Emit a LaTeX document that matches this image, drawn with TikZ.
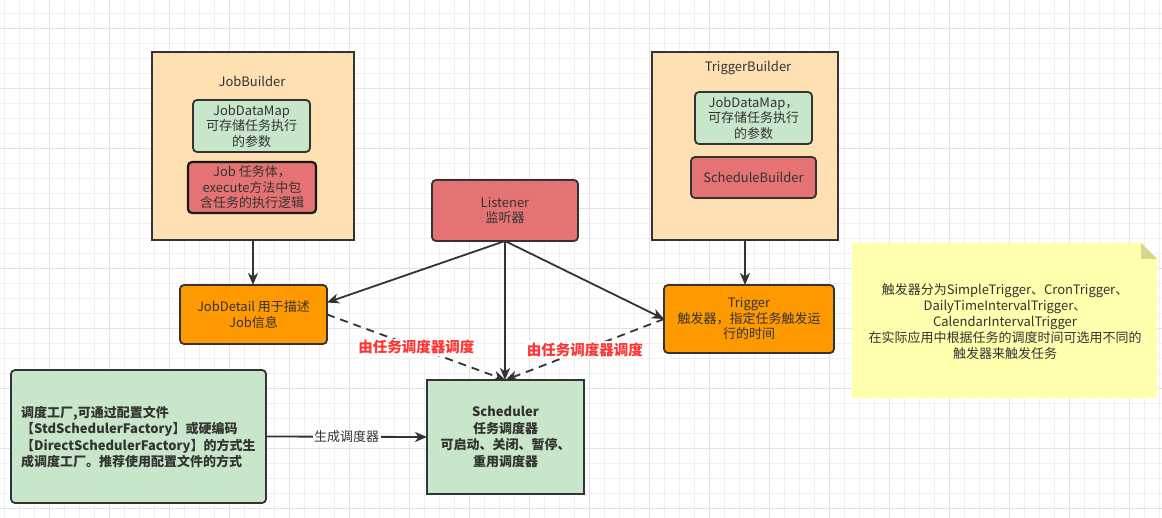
\documentclass[tikz,border=0pt]{standalone}
\usepackage{fontspec}
\setmainfont{Noto Sans CJK SC}
\usetikzlibrary{arrows.meta}
\definecolor{ink}{HTML}{333333}
\definecolor{peach}{HTML}{FFE0B2}
\definecolor{mint}{HTML}{C8E6C9}
\definecolor{salmon}{HTML}{E57373}
\definecolor{amber}{HTML}{FF9900}
\definecolor{noteyellow}{HTML}{FFFFAD}
\definecolor{notefold}{HTML}{D6D68E}
\definecolor{labelred}{HTML}{FF3333}
\definecolor{gridminor}{HTML}{F0F0F0}
\definecolor{gridmajor}{HTML}{E3E3E3}
\tikzset{
  base/.style={draw=ink, line width=1.8pt, text=ink, font=\fontsize{13}{15.5}\selectfont,
    align=center, inner sep=2pt, outer sep=0pt, anchor=north west},
  builder/.style={base, fill=peach},
  greenbox/.style={base, fill=mint, rounded corners=4pt},
  redbox/.style={base, fill=salmon, rounded corners=4pt},
  orangebox/.style={base, fill=amber, rounded corners=4pt},
  txt/.style={text=ink, font=\fontsize{13}{16}\selectfont, align=center, inner sep=1pt},
  arr/.style={draw=ink, line width=1.8pt, -{Stealth[length=12pt,width=10pt,inset=3.5pt]}},
  dasharr/.style={arr, dash pattern=on 8pt off 6pt},
  redlabel/.style={fill=white, text=labelred, font=\fontsize{14.5}{16}\selectfont\bfseries, inner sep=1.5pt},
  edgelabel/.style={fill=white, text=ink, font=\fontsize{13}{16}\selectfont, inner sep=1.5pt},
}
\begin{document}
\begin{tikzpicture}[x=1pt,y=-1pt]
\useasboundingbox (0,0) rectangle (1162,518);
\fill[white] (0,0) rectangle (1162,518);
% grid
\foreach \i in {0,...,77} { \draw[gridminor, line width=1pt] ({4.3+15*\i},0) -- ({4.3+15*\i},518); }
\foreach \i in {0,...,34} { \draw[gridminor, line width=1pt] (0,{13.3+15*\i}) -- (1162,{13.3+15*\i}); }
\foreach \i in {0,...,18} { \draw[gridmajor, line width=1pt] ({49.3+60*\i},0) -- ({49.3+60*\i},518); }
\foreach \i in {0,...,8} { \draw[gridmajor, line width=1pt] (0,{28.3+60*\i}) -- (1162,{28.3+60*\i}); }

% JobBuilder
\node[builder, minimum width=202pt, minimum height=188pt] (jb) at (152,52) {};
\node[txt] (jbt) at (252,81) {JobBuilder};
\node[greenbox, minimum width=117pt, minimum height=52pt] (jdm1) at (193,100) {JobDataMap\\可存储任务执行\\的参数};
\node[redbox, draw=black!90, line width=2.2pt, minimum width=128pt, minimum height=51pt] (job) at (188,162) {Job 任务体，\\execute方法中包\\含任务的执行逻辑};

% TriggerBuilder
\node[builder, minimum width=186pt, minimum height=188pt] (tb) at (652,52) {};
\node[txt] (tbt) at (748,68) {TriggerBuilder};
\node[greenbox, minimum width=117pt, minimum height=52pt] (jdm2) at (695,92) {JobDataMap，\\可存储任务执行\\的参数};
\node[redbox, minimum width=125pt, minimum height=41pt] (sb) at (691,157) {ScheduleBuilder};

% Listener
\node[redbox, minimum width=146pt, minimum height=61pt] (ls) at (432,180) {Listener\\监听器};

% JobDetail and Trigger
\node[orangebox, minimum width=147pt, minimum height=59pt] (jd) at (180,285) {JobDetail 用于描述\\Job信息};
\node[orangebox, minimum width=170pt, minimum height=68pt] (tr) at (664,285) {Trigger\\触发器，指定任务触发运\\行的时间};

% Factory
\node[greenbox, minimum width=255pt, minimum height=133pt] (fa) at (11,370) {};
\node[txt, anchor=west, align=left, font=\fontsize{13}{16.5}\selectfont\bfseries] (fat) at (20,437)
  {调度工厂,可通过配置文件\\【StdSchedulerFactory】或硬编码\\【DirectSchedulerFactory】的方式生\\成调度工厂。推荐使用配置文件的方式};

% Scheduler
\node[greenbox, rounded corners=0pt, minimum width=157pt, minimum height=114pt,
  font=\fontsize{13}{16.8}\selectfont\bfseries] (sc) at (427,380)
  {Scheduler\\任务调度器\\可启动、关闭、暂停、\\重用调度器};

% Note
\fill[noteyellow] (852,243) -- (1141,243) -- (1157,259) -- (1157,398) -- (852,398) -- cycle;
\fill[notefold] (1141,243) -- (1157,259) -- (1141,259) -- cycle;
\node[txt] (nt) at (1005,322) {触发器分为SimpleTrigger、CronTrigger、\\DailyTimeIntervalTrigger、\\CalendarIntervalTrigger\\在实际应用中根据任务的调度时间可选用不同的\\触发器来触发任务};

% Connectors
\draw[arr] (jb.south) -- (jb.south |- jd.north);
\draw[arr] (tb.south) -- (tb.south |- tr.north);
\draw[arr] (ls.south) -- ([yshift=12pt]jd.east);
\draw[arr] (ls.south) -- (tr.west);
\draw[arr] (ls.south) -- (ls.south |- sc.north);
\draw[dasharr] (jd.east) -- (sc.north) node[midway, redlabel] (l1) {由任务调度器调度};
\draw[dasharr] (tr.west) -- (sc.north) node[midway, redlabel] (l2) {由任务调度器调度};
\draw[arr] (fa.east) -- (sc.west) node[midway, edgelabel] (l3) {生成调度器};
\end{tikzpicture}
\end{document}
